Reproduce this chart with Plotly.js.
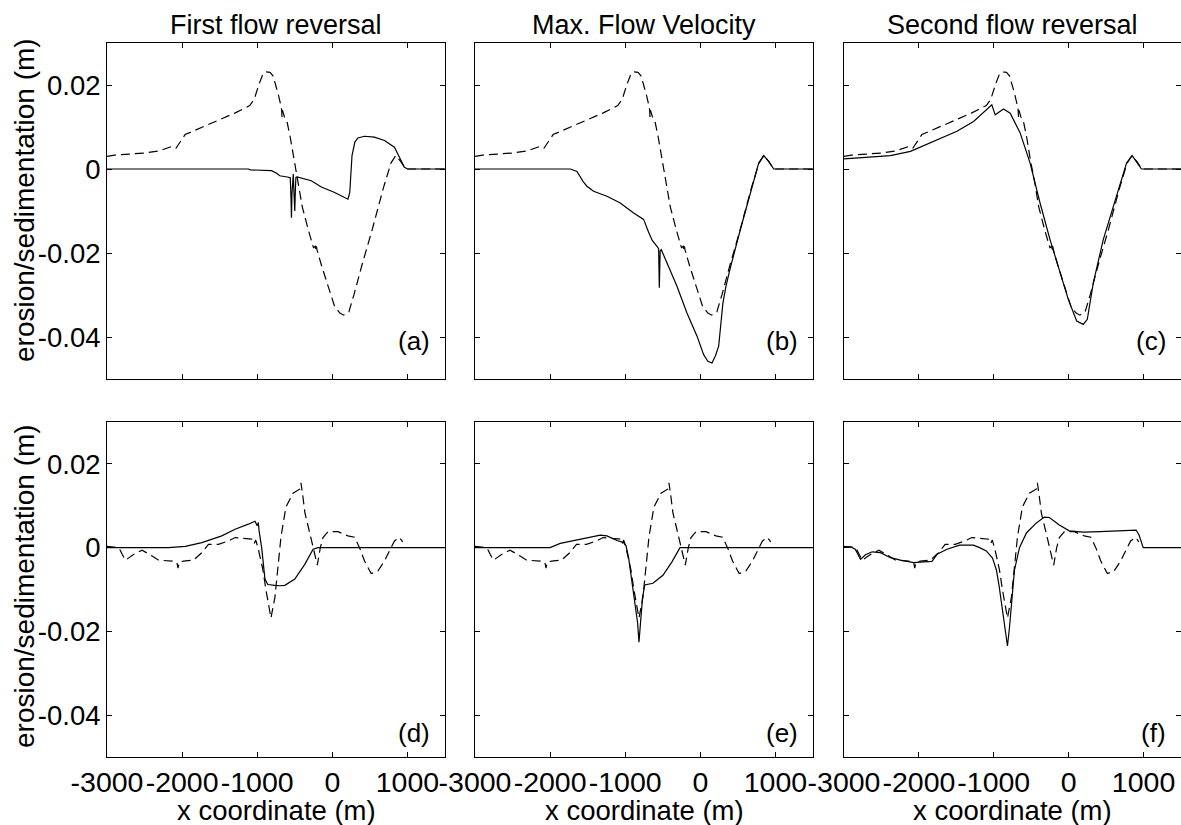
<!DOCTYPE html>
<html>
<head>
<meta charset="utf-8">
<script src="https://cdn.plot.ly/plotly-3.0.1.min.js"></script>
<style>html,body{margin:0;padding:0;background:#fff;}#chart{width:1181px;height:825px;}</style>
</head>
<body>
<div id="chart"></div>
<script>
// ---------- data ----------
const panelTitles = ['First flow reversal', 'Max. Flow Velocity', 'Second flow reversal'];
const panelLetters = ['(a)', '(b)', '(c)', '(d)', '(e)', '(f)'];
const yAxisTitle = 'erosion/sedimentation (m)';
const xAxisTitle = 'x coordinate (m)';
const xTickVals = [-3000, -2000, -1000, 0, 1000];
const xTickText = ['-3000', '-2000', '-1000', '0', '1000'];
const yTickVals = [-0.04, -0.02, 0, 0.02];
const yTickText = ['-0.04', '-0.02', '0', '0.02'];

// dashed reference curve, top row (a, b, c)
const xDashedTop = [-3000, -2900, -2500, -2310, -2130, -2080, -1960, -1760, -1550, -1300, -1100, -1040, -980, -920, -880, -830, -790, -760, -720, -690, -676, -670, -664, -640, -600, -560, -510, -450, -400, -320, -250, -225, -218, -212, -205, -140, -50, 30, 100, 150, 220, 290, 400, 530, 680, 780, 845, 910, 975, 1500];
const yDashedTop = [0.0030, 0.0033, 0.0038, 0.0043, 0.0054, 0.0050, 0.0082, 0.0098, 0.0113, 0.0133, 0.0151, 0.0166, 0.0200, 0.0228, 0.0231, 0.0230, 0.0222, 0.0205, 0.0178, 0.0155, 0.0143, 0.0124, 0.0140, 0.0125, 0.0110, 0.0075, 0.0020, -0.0035, -0.0090, -0.0145, -0.0188, -0.0183, -0.0196, -0.0184, -0.0192, -0.0232, -0.0285, -0.0327, -0.0343, -0.0348, -0.0340, -0.0298, -0.0225, -0.0145, -0.0045, 0.0014, 0.0032, 0.0018, 0.0, 0.0];

// dashed reference curve, bottom row (d, e, f)
const xDashedBottom = [-3000, -2908, -2842, -2798, -2754, -2643, -2533, -2400, -2312, -2135, -2070, -2055, -2040, -1980, -1848, -1737, -1649, -1516, -1383, -1295, -1118, -1060, -1040, -1020, -990, -924, -884, -830, -817, -764, -724, -684, -618, -524, -430, -418, -391, -365, -285, -230, -200, -160, -124, -57, 75, 208, 296, 362, 429, 517, 606, 694, 760, 827, 893, 937];
const yDashedBottom = [0.0003, 0.0002, 0.0, -0.0016, -0.0030, -0.0016, -0.0006, -0.0020, -0.0030, -0.0032, -0.0035, -0.0049, -0.0035, -0.0032, -0.0030, -0.0012, 0.0008, 0.0008, 0.0016, 0.0024, 0.0022, 0.0020, 0.0010, 0.0018, 0.0, -0.0053, -0.0101, -0.0150, -0.0168, -0.0118, -0.0054, 0.0025, 0.0097, 0.0130, 0.0140, 0.0155, 0.0121, 0.0083, 0.0023, -0.0020, -0.0042, 0.0000, 0.0024, 0.0038, 0.0038, 0.0028, 0.0025, 0.0, -0.0032, -0.0062, -0.0056, -0.0032, -0.0008, 0.0016, 0.0024, 0.0014];

// solid curves
const xSolidA = [-3000, -1120, -1090, -810, -740, -700, -600, -560, -550, -544, -538, -530, -520, -510, -500, -492, -485, -470, -433, -350, -280, -146, 31, 208, 232, 262, 300, 340, 430, 560, 694, 827, 893, 959, 1003, 1500];
const ySolidA = [0, 0, -0.0002, -0.0004, -0.0010, -0.0016, -0.0019, -0.0021, -0.0070, -0.0116, -0.0060, -0.0015, -0.0012, -0.0060, -0.0100, -0.0050, -0.0020, -0.0019, -0.0021, -0.0024, -0.0028, -0.0043, -0.0056, -0.0072, -0.0056, 0.0032, 0.0064, 0.0074, 0.0078, 0.0076, 0.0068, 0.0052, 0.0028, 0.0004, 0, 0];

const xSolidB = [-3000, -1730, -1643, -1560, -1510, -1421, -1243, -1066, -888, -755, -690, -640, -577, -555, -546, -535, -520, -444, -311, -178, -44, 44, 100, 155, 200, 244, 270, 300, 340, 400, 533, 688, 777, 844, 910, 977, 1500];
const ySolidB = [0, 0, -0.0006, -0.0030, -0.0041, -0.0053, -0.0065, -0.0081, -0.0105, -0.0120, -0.0150, -0.0170, -0.0184, -0.0190, -0.0283, -0.0195, -0.0192, -0.0224, -0.0279, -0.0343, -0.0398, -0.0442, -0.0458, -0.0462, -0.0445, -0.0422, -0.0370, -0.0320, -0.0280, -0.0235, -0.0144, -0.0041, 0.0014, 0.0032, 0.0018, 0, 0];

const xSolidC = [-3000, -2380, -2113, -1803, -1492, -1270, -1092, -1026, -981, -915, -870, -781, -648, -515, -382, -249, -115, -4, 107, 195, 249, 329, 462, 595, 706, 773, 848, 906, 972, 1500];
const ySolidC = [0.0024, 0.0032, 0.0042, 0.0066, 0.0090, 0.0113, 0.0141, 0.0153, 0.0129, 0.0137, 0.0143, 0.0133, 0.0086, 0.0014, -0.0081, -0.0168, -0.0247, -0.0311, -0.0362, -0.0370, -0.0358, -0.0271, -0.0168, -0.0089, -0.0025, 0.0014, 0.0032, 0.0018, 0, 0];

const xSolidD = [-3000, -2180, -1958, -1737, -1472, -1295, -1118, -1030, -1000, -985, -975, -941, -897, -860, -765, -700, -632, -500, -367, -256, -190, 1500];
const ySolidD = [0, 0, 0.0003, 0.0012, 0.0028, 0.0044, 0.0056, 0.0063, 0.0052, 0.0060, 0.0040, 0.0000, -0.0075, -0.0088, -0.0090, -0.0091, -0.0090, -0.0075, -0.0040, -0.0004, 0, 0];

const xSolidE = [-3000, -2000, -1865, -1687, -1510, -1332, -1243, -1110, -1021, -990, -955, -910, -866, -835, -817, -795, -770, -740, -700, -631, -498, -378, -271, 1500];
const ySolidE = [0, 0, 0.0010, 0.0017, 0.0024, 0.0030, 0.0028, 0.0017, 0.0012, 0.0005, -0.0024, -0.0079, -0.0130, -0.0180, -0.0226, -0.0180, -0.0120, -0.0089, -0.0088, -0.0085, -0.0066, -0.0034, 0, 0];

const xSolidF = [-3000, -2913, -2850, -2800, -2779, -2713, -2624, -2513, -2380, -2247, -2069, -1936, -1825, -1758, -1625, -1456, -1270, -1190, -1100, -1017, -964, -930, -897, -850, -817, -790, -764, -724, -657, -564, -431, -325, -258, -125, 8, 195, 417, 639, 900, 940, 995, 1500];
const ySolidF = [0.0002, 0.0002, -0.0004, -0.0020, -0.0028, -0.0017, -0.0010, -0.0012, -0.0024, -0.0030, -0.0036, -0.0034, -0.0033, -0.0016, -0.0004, 0.0006, 0.0006, 0.0, -0.0008, -0.0025, -0.0054, -0.0090, -0.0133, -0.0200, -0.0235, -0.0190, -0.0133, -0.0054, 0.0, 0.0035, 0.0059, 0.0073, 0.0072, 0.0054, 0.0040, 0.0037, 0.0038, 0.0040, 0.0042, 0.0030, 0, 0];

// ---------- layout helpers ----------
const W = 1181, H = 825;
const colPx = [[107, 445], [475, 813], [844, 1181]];
const rowPx = [[43, 379], [422, 757]];
const solidX = [xSolidA, xSolidB, xSolidC, xSolidD, xSolidE, xSolidF];
const solidY = [ySolidA, ySolidB, ySolidC, ySolidD, ySolidE, ySolidF];

const FONT = 'Liberation Sans, Arial, Helvetica, sans-serif';
const traces = [];
const layout = {
  width: W, height: H,
  margin: {l: 0, r: 0, t: 0, b: 0, pad: 0},
  paper_bgcolor: '#fff', plot_bgcolor: '#fff',
  showlegend: false,
  font: {family: FONT, size: 27, color: '#000'},
  annotations: []
};

for (let r = 0; r < 2; r++) {
  for (let c = 0; c < 3; c++) {
    const i = r * 3 + c;
    const sfx = i === 0 ? '' : String(i + 1);
    const xa = 'x' + sfx, ya = 'y' + sfx;
    layout['xaxis' + sfx] = {
      domain: [colPx[c][0] / W, colPx[c][1] / W],
      anchor: ya, range: [-3000, 1500], autorange: false,
      tickmode: 'array', tickvals: xTickVals, ticktext: xTickText,
      showticklabels: r === 1, tickangle: 0,
      ticks: 'inside', ticklen: 5, tickwidth: 1, tickcolor: '#000',
      showline: true, linecolor: '#000', linewidth: 1, mirror: 'ticks',
      showgrid: false, zeroline: false,
      tickfont: {family: FONT, size: 28.5, color: '#000'}
    };
    layout['yaxis' + sfx] = {
      domain: [1 - rowPx[r][1] / H, 1 - rowPx[r][0] / H],
      anchor: xa, range: [-0.05, 0.03], autorange: false,
      tickmode: 'array', tickvals: yTickVals, ticktext: yTickText,
      showticklabels: c === 0,
      ticks: 'inside', ticklen: 5, tickwidth: 1, tickcolor: '#000',
      showline: true, linecolor: '#000', linewidth: 1, mirror: 'ticks',
      showgrid: false, zeroline: false,
      tickfont: {family: FONT, size: 27.5, color: '#000'}
    };
    traces.push({
      x: r === 0 ? xDashedTop : xDashedBottom,
      y: r === 0 ? yDashedTop : yDashedBottom,
      xaxis: xa, yaxis: ya, type: 'scatter', mode: 'lines',
      line: {color: '#000', width: 1.2, dash: '9px,5px'}, hoverinfo: 'skip'
    });
    traces.push({
      x: solidX[i], y: solidY[i],
      xaxis: xa, yaxis: ya, type: 'scatter', mode: 'lines',
      line: {color: '#000', width: 1.2}, hoverinfo: 'skip'
    });
    layout.annotations.push({
      text: panelLetters[i], xref: xa, yref: ya,
      x: 1330, y: r === 0 ? -0.041 : -0.0443,
      xanchor: 'right', yanchor: 'middle', showarrow: false,
      font: {family: FONT, size: 26, color: '#000'}
    });
  }
}

// column titles and axis titles
for (let c = 0; c < 3; c++) {
  const cx = (colPx[c][0] + colPx[c][1]) / 2 / W;
  layout.annotations.push({
    text: panelTitles[c], xref: 'paper', yref: 'paper',
    x: cx, y: 1 - 25 / H, xanchor: 'center', yanchor: 'middle', showarrow: false,
    font: {family: FONT, size: 27, color: '#000'}
  });
  layout.annotations.push({
    text: xAxisTitle, xref: 'paper', yref: 'paper',
    x: cx, y: 1 - 810 / H, xanchor: 'center', yanchor: 'middle', showarrow: false,
    font: {family: FONT, size: 27.5, color: '#000'}
  });
}
const yTitleCenters = [200, 586];
for (let r = 0; r < 2; r++) {
  layout.annotations.push({
    text: yAxisTitle, xref: 'paper', yref: 'paper',
    x: 24 / W, y: 1 - yTitleCenters[r] / H, xanchor: 'center', yanchor: 'middle',
    textangle: -90, showarrow: false,
    font: {family: FONT, size: 28, color: '#000'}
  });
}

Plotly.newPlot('chart', traces, layout, {staticPlot: true, displayModeBar: false});
</script>
</body>
</html>
